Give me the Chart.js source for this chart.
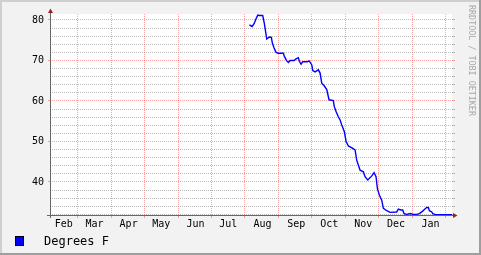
<!DOCTYPE html>
<html>
<head>
<meta charset="utf-8">
<script src="https://cdn.jsdelivr.net/npm/chart.js@4/dist/chart.umd.min.js"></script>
<style>
  html, body { margin: 0; padding: 0; background: #f2f2f2; }
  canvas { display: block; }
</style>
</head>
<body>
<canvas id="chart" width="481" height="255" style="width:481px;height:255px"></canvas>
<script>
// ---- data (x = days since Feb 1) ----
const monthStarts = [28, 59, 89, 120, 150, 181, 212, 242, 273, 303, 334, 365];
const monthLabels = ['Feb', 'Mar', 'Apr', 'May', 'Jun', 'Jul', 'Aug', 'Sep', 'Oct', 'Nov', 'Dec', 'Jan'];
const labelDays   = [15.3, 43.4, 74.6, 104.5, 135.8, 165.8, 197.1, 228, 258.1, 289.3, 319.2, 350.8];
const yTicks      = [32, 34, 36, 38, 40, 42, 44, 46, 48, 50, 52, 54, 56, 58, 60, 62, 64, 66, 68, 70, 72, 74, 76, 78, 80];

const days = [185.1, 187.6, 189.4, 191.2, 192.8, 194.2, 197.3, 198.8, 201.0, 203.4, 205.2, 206.1, 207.7, 209.5,
  211.6, 216.2, 217.1, 219.3, 220.8, 222.3, 226.0, 227.8, 229.9, 230.8, 232.4, 233.9, 238.2, 239.7, 240.6,
  242.2, 243.1, 245.2, 248.2, 249.8, 251.3, 253.7, 255.9, 258.0, 261.9, 262.8, 264.4, 266.5, 268.1, 269.6,
  272.0, 273.6, 275.7, 279.7, 281.8, 283.3, 284.8, 286.4, 289.4, 290.9, 293.4, 297.1, 299.2, 301.0, 302.2,
  304.0, 306.2, 307.7, 310.8, 313.8, 319.9, 321.4, 323.6, 325.4, 326.6, 329.1, 332.1, 335.1, 338.3, 340.6,
  343.7, 345.2, 347.4, 348.9, 349.8, 352.0, 352.9, 355.0, 357.1, 370.5];
const degreesF = [78.8, 78.4, 79.1, 80.3, 81.2, 81.1, 81.1, 79.1, 75.3, 75.8, 75.7, 74.3, 73.1, 72.0,
  71.8, 71.8, 71.0, 69.9, 69.5, 70.0, 70.0, 70.4, 70.7, 69.8, 69.1, 69.7, 69.7, 69.9, 69.6,
  68.9, 67.5, 67.2, 67.7, 66.9, 64.4, 63.7, 62.8, 60.3, 60.1, 58.6, 57.4, 56.1, 55.3, 54.1,
  52.4, 50.0, 48.9, 48.3, 47.9, 45.4, 44.2, 42.9, 42.5, 41.3, 40.5, 41.5, 42.3, 41.3, 38.4,
  36.8, 35.5, 33.5, 32.9, 32.5, 32.6, 33.3, 33.1, 33.1, 32.2, 32.0, 32.2, 32.0, 32.0, 32.2,
  32.8, 33.2, 33.7, 33.7, 32.9, 32.6, 32.2, 32.0, 31.9, 31.9];

const MGRID = 'rgba(255,0,0,0.36)';
const GRID  = 'rgba(150,150,150,0.65)';
const NONE  = 'rgba(0,0,0,0)';
const ARROW = '#9a2020';
const AXIS  = '#666666';

Chart.defaults.font.family = "'DejaVu Sans Mono', monospace";
Chart.defaults.font.size = 10;
Chart.defaults.color = '#000';

const isMajor = v => v % 10 === 0;
const isMonth = v => monthStarts.includes(v);
const yGridColor = ctx => ctx.tick && isMajor(ctx.tick.value) ? MGRID : GRID;

// background, frame, watermark, axes, arrows, legend
const rrdFrame = {
  id: 'rrdFrame',
  beforeDraw(chart) {
    const { ctx, chartArea: a, width, height } = chart;
    ctx.save();
    ctx.fillStyle = '#f2f2f2';
    ctx.fillRect(0, 0, width, height);
    ctx.fillStyle = '#cfcfcf';
    ctx.fillRect(0, 0, width, 2);
    ctx.fillRect(0, 0, 2, height);
    ctx.fillStyle = '#9e9e9e';
    ctx.fillRect(width - 2, 0, 2, height);
    ctx.fillRect(0, height - 2, width, 2);
    ctx.fillStyle = '#ffffff';
    ctx.fillRect(a.left, a.top, a.right - a.left, a.bottom - a.top);
    ctx.restore();
  },
  afterDraw(chart) {
    const { ctx, chartArea: a } = chart;
    ctx.save();
    // axes
    ctx.strokeStyle = AXIS;
    ctx.lineWidth = 1;
    ctx.beginPath();
    ctx.moveTo(a.left - 3, a.bottom + 0.5);
    ctx.lineTo(a.right + 1, a.bottom + 0.5);
    ctx.moveTo(a.left + 0.5, a.top - 2);
    ctx.lineTo(a.left + 0.5, a.bottom + 3);
    ctx.stroke();
    // arrows
    ctx.fillStyle = ARROW;
    ctx.beginPath();
    ctx.moveTo(a.left - 2, a.top - 1);
    ctx.lineTo(a.left + 3, a.top - 1);
    ctx.lineTo(a.left + 0.5, a.top - 5.5);
    ctx.closePath();
    ctx.fill();
    ctx.beginPath();
    ctx.moveTo(a.right + 1, a.bottom - 2);
    ctx.lineTo(a.right + 1, a.bottom + 3);
    ctx.lineTo(a.right + 5.5, a.bottom + 0.5);
    ctx.closePath();
    ctx.fill();
    // legend
    ctx.fillStyle = '#0000ff';
    ctx.fillRect(15, 236, 9, 10);
    ctx.strokeStyle = '#000';
    ctx.strokeRect(15.5, 236.5, 8, 9);
    ctx.fillStyle = '#000';
    ctx.font = "12px 'DejaVu Sans Mono'";
    ctx.textBaseline = 'alphabetic';
    ctx.fillText('Degrees F', 44, 244.5);
    // watermark
    ctx.translate(469, 5);
    ctx.rotate(Math.PI / 2);
    ctx.fillStyle = '#a8a8a8';
    ctx.font = "8.4px 'DejaVu Sans Mono'";
    ctx.fillText('RRDTOOL / TOBI OETIKER', 0, 0);
    ctx.restore();
  }
};

new Chart(document.getElementById('chart'), {
  type: 'line',
  data: {
    datasets: [{
      label: 'Degrees F',
      data: days.map((d, i) => ({ x: d, y: degreesF[i] })),
      borderColor: '#0000ff',
      borderWidth: 1.4,
      pointRadius: 0,
      tension: 0,
      fill: false
    }]
  },
  plugins: [rrdFrame],
  options: {
    responsive: false,
    animation: false,
    layout: { padding: { top: 14, left: 0, right: 0, bottom: 0 } },
    plugins: { legend: { display: false }, tooltip: { enabled: false } },
    scales: {
      x: {
        type: 'linear',
        min: 2.65,
        max: 370.5,
        afterBuildTicks: s => { s.ticks = [...monthStarts, ...labelDays].sort((p, q) => p - q).map(v => ({ value: v })); },
        afterFit: s => { s.height = 40; },
        border: { display: false, dash: [1, 1] },
        grid: {
          color: ctx => ctx.tick && isMonth(ctx.tick.value) ? MGRID : NONE,
          tickColor: ctx => ctx.tick && isMonth(ctx.tick.value) ? MGRID : NONE,
          tickLength: 3
        },
        ticks: {
          autoSkip: false,
          maxRotation: 0,
          padding: 0,
          callback: v => { const i = labelDays.indexOf(v); return i >= 0 ? monthLabels[i] : ''; }
        }
      },
      y: {
        min: 31.85,
        max: 81.48,
        afterBuildTicks: s => { s.ticks = yTicks.map(v => ({ value: v })); },
        afterFit: s => { s.width = 50; },
        border: { display: false, dash: [1, 1] },
        grid: {
          color: yGridColor,
          tickColor: ctx => ctx.tick && isMajor(ctx.tick.value) ? MGRID : NONE,
          tickLength: 2
        },
        ticks: {
          autoSkip: false,
          padding: 4,
          callback: v => isMajor(v) ? String(v) : ''
        }
      },
      y2: {
        position: 'right',
        min: 31.85,
        max: 81.48,
        afterBuildTicks: s => { s.ticks = yTicks.map(v => ({ value: v })); },
        afterFit: s => { s.width = 29; },
        border: { display: false },
        grid: { drawOnChartArea: false, tickColor: yGridColor, tickLength: 3 },
        ticks: { display: false }
      }
    }
  }
});
</script>
</body>
</html>
